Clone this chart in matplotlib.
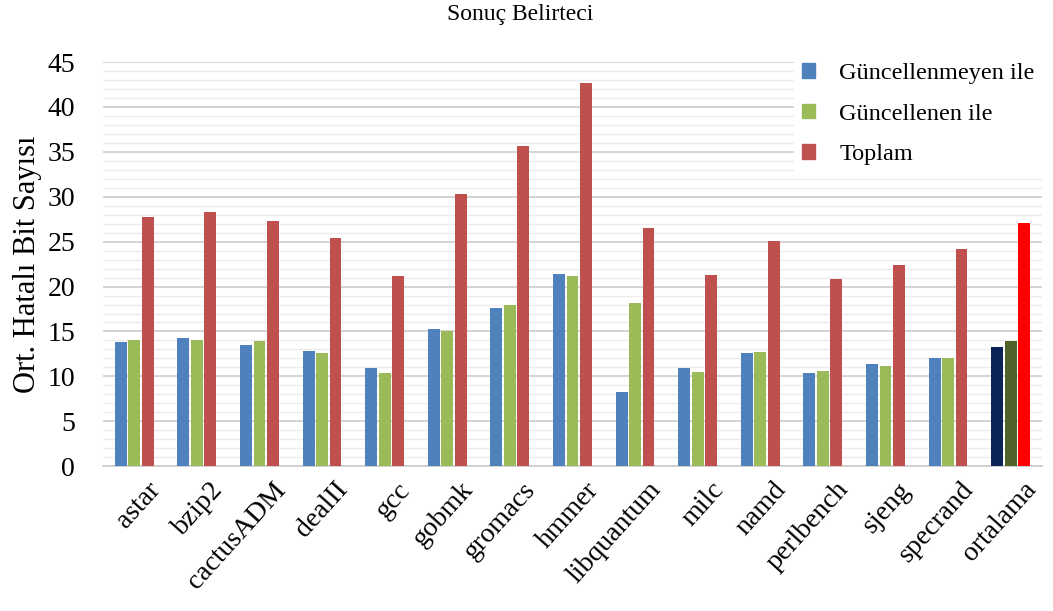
import numpy as np
import matplotlib.pyplot as plt
from matplotlib.patches import Patch

plt.rcParams['font.family'] = ['Liberation Serif', 'DejaVu Serif']

# benchmark names and average faulty bit counts
benchmarks = ['astar', 'bzip2', 'cactusADM', 'dealII', 'gcc', 'gobmk', 'gromacs',
              'hmmer', 'libquantum', 'milc', 'namd', 'perlbench', 'sjeng',
              'specrand', 'ortalama']
guncellenmeyen = [13.8, 14.3, 13.5, 12.85, 10.95, 15.3, 17.6, 21.45, 8.3,
                  10.95, 12.55, 10.35, 11.4, 12.1, 13.3]
guncellenen = [14.0, 14.0, 13.9, 12.6, 10.35, 15.0, 17.9, 21.15, 18.2,
               10.45, 12.75, 10.55, 11.1, 12.1, 13.9]
toplam = [27.7, 28.25, 27.3, 25.4, 21.2, 30.3, 35.6, 42.7, 26.55,
          21.3, 25.1, 20.85, 22.4, 24.15, 27.1]

c_blue, c_green, c_red = '#4F81BD', '#9BBB59', '#C0504D'
# the average group gets darker / brighter colours
blue_cols = [c_blue] * 14 + ['#0C2358']
green_cols = [c_green] * 14 + ['#4F6228']
red_cols = [c_red] * 14 + ['#FF0000']

fig = plt.figure(figsize=(10.53, 6.11), dpi=100)
ax = fig.add_axes([0.0978, 0.237, 0.8917, 0.6615])

x = np.arange(len(benchmarks))
step, w = 0.215, 0.19
ax.bar(x - step, guncellenmeyen, w, color=blue_cols, zorder=3)
ax.bar(x, guncellenen, w, color=green_cols, zorder=3)
ax.bar(x + step, toplam, w, color=red_cols, zorder=3)

ax.set_ylim(0, 45)
ax.set_xlim(-0.5, 14.5)
ax.set_yticks(np.arange(0, 46, 5))
ax.set_yticks(np.arange(0, 46, 1), minor=True)
ax.grid(axis='y', which='major', color='#d4d4d4', linewidth=1.4, zorder=0)
ax.grid(axis='y', which='minor', color='#ececec', linewidth=1.0, zorder=0)
ax.tick_params(axis='y', which='both', length=0, labelsize=20, pad=20)
ax.tick_params(axis='x', length=0, pad=8)
for s in ['top', 'right', 'left']:
    ax.spines[s].set_visible(False)
ax.spines['bottom'].set_color('#d0d0d0')
ax.spines['bottom'].set_linewidth(1.4)

ax.set_xticks(x + 0.2)
ax.set_xticklabels(benchmarks, rotation=48, ha='right', rotation_mode='anchor',
                   fontsize=20)
ax.set_ylabel('Ort. Hatalı Bit Sayısı', fontsize=22, labelpad=4)

fig.text(0.494, 0.977, 'Sonuç Belirteci', ha='center', va='center', fontsize=17)

handles = [Patch(color=c_blue), Patch(color=c_green), Patch(color=c_red)]
leg = ax.legend(handles, ['Güncellenmeyen ile', 'Güncellenen ile', 'Toplam'],
                loc='upper right', bbox_to_anchor=(1.0, 1.015), fontsize=17.5,
                frameon=True, framealpha=1, edgecolor='white', fancybox=False,
                handlelength=0.55, handleheight=0.55, handletextpad=1.0,
                labelspacing=0.8, borderaxespad=0, borderpad=0.3)
leg.set_zorder(5)

fig.savefig('out.png', dpi=100)
